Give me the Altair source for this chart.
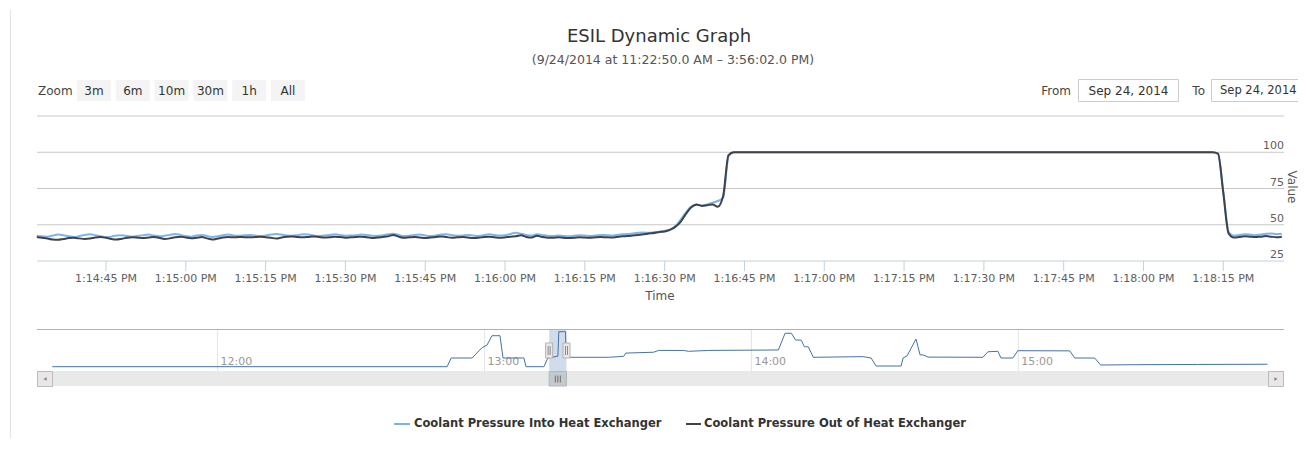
import altair as alt
import pandas as pd
from datetime import datetime, timezone, timedelta

FONT = "DejaVu Sans"
OX, OY = 8, 8
W, H = 1290, 430


def X(v):
    return v - OX


def Y(v):
    return v - OY


DAY = "2014-09-24"


def iso(hms):
    return f"{DAY}T{hms}Z"


def ms(hms):
    h, m, s = hms.split(":")
    return int(datetime(2014, 9, 24, int(h), int(m), int(s), tzinfo=timezone.utc).timestamp() * 1000)


# ---------------- data ----------------
title_text = "ESIL Dynamic Graph"
subtitle_text = "(9/24/2014 at 11:22:50.0 AM \u2013 3:56:02.0 PM)"
series_names = ["Coolant Pressure Into Heat Exchanger", "Coolant Pressure Out of Heat Exchanger"]
series_colors = ["#7cb5ec", "#3f4249"]
zoom_buttons = ["3m", "6m", "10m", "30m", "1h", "All"]
date_from = "Sep 24, 2014"
date_to = "Sep 24, 2014"

# main series, one reading per second from 13:14:32
main_start = "13:14:32"
into_vals = [
    42.5, 42.0, 41.8, 42.6, 43.2, 42.8, 42.0, 41.6, 42.2, 43.0, 43.4, 42.8, 42.0, 41.5, 41.8, 42.6, 42.8, 42.2, 41.8, 42.4,
    42.8, 43.2, 42.6, 42.0, 42.4, 43.0, 43.6, 43.0, 42.2, 41.8, 42.6, 43.0, 42.2, 41.6, 42.0, 42.8, 43.2, 42.6, 42.4, 42.8,
    43.0, 42.6, 42.2, 42.6, 43.2, 43.6, 43.2, 42.6, 42.4, 42.8, 43.4, 43.2, 42.6, 42.2, 42.6, 43.0, 43.4, 43.0, 42.4, 42.6,
    42.8, 43.2, 43.0, 42.4, 42.2, 42.8, 43.4, 43.8, 43.0, 42.2, 42.4, 43.0, 43.2, 42.6, 42.2, 42.6, 43.2, 43.4, 42.8, 42.4,
    42.6, 43.0, 42.6, 42.2, 42.8, 43.4, 43.0, 42.6, 42.8, 43.6, 44.4, 43.8, 43.0, 42.6, 43.4, 43.0, 42.4, 42.2, 42.6, 42.2,
    42.0, 42.4, 42.8, 42.6, 42.2, 42.6, 43.0, 42.8, 42.6, 43.0, 43.4, 43.6, 44.0, 44.4, 44.6, 44.4, 44.8, 45.2, 45.8, 46.6,
    49.0, 53.5, 58.5, 62.5, 63.8, 63.2, 64.0, 65.2, 66.4, 68.5, 97.0,
] + [100.0] * 91 + [
    99.0, 73.0, 45.0,
    42.5, 43.0, 43.4, 43.2, 42.8, 43.2, 43.8, 44.0, 43.6, 43.8,
]
out_vals = [
    41.5, 41.0, 40.5, 39.8, 39.6, 40.2, 40.8, 41.0, 40.6, 40.2, 40.5, 41.2, 41.5, 41.0, 40.2, 39.8, 40.4, 41.0, 41.3, 41.1,
    40.8, 41.2, 41.6, 41.0, 40.2, 40.6, 41.4, 41.8, 41.2, 40.7, 41.0, 41.5, 40.6, 39.8, 40.5, 41.2, 41.5, 41.3, 41.6, 41.4,
    41.3, 41.5, 41.7, 41.4, 41.0, 40.5, 41.2, 41.7, 41.9, 41.5, 41.3, 41.6, 41.9, 41.6, 41.2, 41.4, 41.8, 41.5, 41.1, 41.3,
    41.5, 41.8, 41.4, 40.9, 41.2, 41.6, 42.0, 43.0, 41.8, 41.0, 41.3, 41.6, 41.2, 40.8, 41.2, 41.6, 41.9, 41.5, 41.0, 41.3,
    41.6, 41.2, 40.8, 41.0, 41.6, 41.8, 41.4, 41.0, 41.3, 41.8, 42.0, 42.8, 41.6, 41.2, 42.5, 41.5, 41.1, 41.0, 41.3, 41.0,
    40.8, 41.0, 41.4, 41.2, 41.0, 41.3, 41.5, 41.3, 41.2, 41.6, 42.0, 42.2, 42.6, 43.0, 43.4, 44.0, 44.3, 45.0, 45.4, 46.5,
    48.5, 52.0, 57.5, 62.0, 64.0, 63.0, 63.5, 64.0, 62.5, 70.0, 98.0,
] + [100.0] * 91 + [
    99.0, 72.0, 44.0,
    41.2, 41.6, 42.0, 41.8, 41.5, 41.8, 42.2, 41.8, 41.4, 41.8,
]

x_ticks = ["13:14:45", "13:15:00", "13:15:15", "13:15:30", "13:15:45", "13:16:00", "13:16:15", "13:16:30",
           "13:16:45", "13:17:00", "13:17:15", "13:17:30", "13:17:45", "13:18:00", "13:18:15"]
y_ticks = [25, 50, 75, 100]
y_grid = [50, 75, 100, 125]

# navigator (whole day overview)
nav_times = ["11:22:50", "12:51:36", "12:52:30", "12:57:12", "12:59:26", "13:00:34", "13:01:41", "13:03:29",
             "13:04:10", "13:08:52", "13:09:19", "13:13:21", "13:14:15", "13:16:30", "13:16:42", "13:18:13",
             "13:18:20", "13:27:56", "13:31:18", "13:31:45", "13:38:02", "13:39:09", "13:44:46", "13:45:53",
             "13:50:22", "14:06:04", "14:07:34", "14:09:00", "14:09:54", "14:11:13", "14:11:54", "14:12:48",
             "14:13:55", "14:25:08", "14:26:55", "14:28:02", "14:33:39", "14:34:06", "14:35:00", "14:37:01",
             "14:37:55", "14:38:36", "14:39:43", "14:52:03", "14:53:11", "14:55:25", "14:56:06", "14:58:47",
             "14:59:54", "15:11:34", "15:12:41", "15:17:10", "15:18:31", "15:26:50", "15:40:17", "15:56:02"]
nav_vals = [21.5, 21.5, 41, 41, 64, 70, 91, 91, 41, 41,
            21.5, 21.5, 41, 45, 100, 100, 42.6, 42.6, 44.8, 52,
            54, 58, 58, 56, 58, 59, 96.4, 96.4, 81.4, 81,
            66.3, 66, 42.6, 44, 41, 23, 23, 41, 46, 83.6,
            48, 48, 43, 42.6, 55, 56, 41, 41, 57.4, 57,
            41, 41, 25.3, 26, 26.5, 27]
nav_hours = ["12:00:00", "13:00:00", "14:00:00", "15:00:00"]
sel_range = ["13:14:32", "13:18:26"]

# ---------------- frames ----------------
t0 = datetime(2014, 9, 24, *[int(p) for p in main_start.split(":")])
main_times = [(t0 + timedelta(seconds=i)).strftime("%H:%M:%S") for i in range(len(out_vals))]
main_df = pd.DataFrame({"t": [iso(s) for s in main_times], "into": into_vals, "out": out_vals})
xt_df = pd.DataFrame({"t": [iso(s) for s in x_ticks]})
yt_df = pd.DataFrame({"v": y_ticks})
yg_df = pd.DataFrame({"v": y_grid})
nav_df = pd.DataFrame({"t": [iso(s) for s in nav_times], "v": nav_vals})
hr_df = pd.DataFrame({"t": [iso(s) for s in nav_hours]})
sel_df = pd.DataFrame({"a": [iso(sel_range[0])], "b": [iso(sel_range[1])]})
dummy = pd.DataFrame({"d": [0]})

# ---------------- helpers ----------------


def box(x1, x2, y1, y2, fill, stroke=None, sw=1):
    kw = dict(fill=fill)
    if stroke:
        kw.update(stroke=stroke, strokeWidth=sw)
    else:
        kw.update(strokeWidth=0)
    return alt.Chart(dummy).mark_rect(**kw).encode(
        x=alt.value(X(x1)), x2=alt.value(X(x2)), y=alt.value(Y(y1)), y2=alt.value(Y(y2)))


def label(txt, x, y, size=12, color="#333333", align="left", weight="normal", angle=0, baseline="middle"):
    return alt.Chart(dummy).mark_text(
        text=txt, align=align, baseline=baseline, fontSize=size, color=color,
        fontWeight=weight, font=FONT, angle=angle).encode(x=alt.value(X(x)), y=alt.value(Y(y)))


def hline(x1, x2, y, color, sw=1):
    return alt.Chart(dummy).mark_rule(color=color, strokeWidth=sw).encode(
        x=alt.value(X(x1)), x2=alt.value(X(x2)), y=alt.value(Y(y)))


def vline(x, y1, y2, color, sw=1):
    return alt.Chart(dummy).mark_rule(color=color, strokeWidth=sw).encode(
        x=alt.value(X(x)), y=alt.value(Y(y1)), y2=alt.value(Y(y2)))


# ---------------- decoration ----------------
decor = [vline(10.5, 10, 449, "#e2e2e2")]
decor.append(label(title_text, 659, 37, size=18, color="#333333", align="center"))
decor.append(label(subtitle_text, 673, 60, size=12.5, color="#555555", align="center"))
decor.append(label("Zoom", 38, 91, size=12, color="#444444"))
for k, b in enumerate(zoom_buttons):
    x1 = 77 + 38.8 * k
    decor.append(box(x1, x1 + 34, 80, 101, "#f4f4f4"))
    decor.append(label(b, x1 + 17, 91, size=12, color="#333333", align="center"))
decor.append(label("From", 1071, 91, size=12, color="#444444", align="right"))
decor.append(box(1078.5, 1178.5, 79.5, 101.5, "#ffffff", "#cccccc"))
decor.append(label(date_from, 1128.5, 91, size=12, color="#333333", align="center"))
decor.append(label("To", 1205, 91, size=12, color="#444444", align="right"))
decor.append(box(1211.5, 1311.5, 79.5, 101.5, "#ffffff", "#cccccc"))
decor.append(label(date_to, 1220, 91, size=11.5, color="#333333", align="left"))
decor.append(label("Time", 660, 296, size=12, color="#555555", align="center"))
decor.append(label("Value", 1292, 187, size=12, color="#555555", angle=90, align="center"))
# legend
decor.append(hline(394, 410, 424, series_colors[0], 2))
decor.append(label(series_names[0], 414, 424, size=11.5, color="#333333", weight="bold"))
decor.append(hline(686, 701, 424, series_colors[1], 2))
decor.append(label(series_names[1], 704, 424, size=11.5, color="#333333", weight="bold"))
decor_layer = alt.layer(*decor)

# ---------------- main plot ----------------
xs_main = alt.Scale(type="utc", domain=[ms("13:14:45"), ms("13:18:15")], range=[X(106), X(1223.3)], nice=False)
ys_main = alt.Scale(domain=[25, 125], range=[Y(261), Y(116)], nice=False, zero=False)

grid = alt.Chart(yg_df).mark_rule(color="#C8C8C8", strokeWidth=1).encode(
    y=alt.Y("v:Q", scale=ys_main, axis=None), x=alt.value(X(37)), x2=alt.value(X(1284)))
axis_line = alt.Chart(yt_df).transform_filter("datum.v == 25").mark_rule(color="#C0D0E0", strokeWidth=1).encode(
    y=alt.Y("v:Q", scale=ys_main, axis=None), x=alt.value(X(37)), x2=alt.value(X(1284)))
ticks = alt.Chart(xt_df).mark_rule(color="#C0D0E0", strokeWidth=1).encode(
    x=alt.X("t:T", scale=xs_main, axis=None), y=alt.value(Y(261)), y2=alt.value(Y(271)))
tick_labels = alt.Chart(xt_df).transform_calculate(
    lab="utcFormat(toDate(datum.t), '%-I:%M:%S %p')"
).mark_text(font=FONT, fontSize=11, color="#606060", baseline="middle", align="center").encode(
    x=alt.X("t:T", scale=xs_main, axis=None), y=alt.value(Y(279)), text="lab:N")
y_labels = alt.Chart(yt_df).mark_text(font=FONT, fontSize=11, color="#606060", baseline="alphabetic",
                                      align="right", dy=-3).encode(
    y=alt.Y("v:Q", scale=ys_main, axis=None), x=alt.value(X(1284)), text="v:N")
line_in = alt.Chart(main_df).mark_line(color=series_colors[0], strokeWidth=2, interpolate="monotone").encode(
    x=alt.X("t:T", scale=xs_main, axis=None), y=alt.Y("into:Q", scale=ys_main, axis=None))
line_out = alt.Chart(main_df).mark_line(color=series_colors[1], strokeWidth=2, interpolate="monotone").encode(
    x=alt.X("t:T", scale=xs_main, axis=None), y=alt.Y("out:Q", scale=ys_main, axis=None))
main_layer = alt.layer(grid, axis_line, ticks, tick_labels, y_labels, line_in, line_out)

# ---------------- navigator ----------------
xs_nav = alt.Scale(type="utc", domain=[ms("12:00:00"), ms("15:00:00")], range=[X(217.6), X(1018.3)], nice=False)
ys_nav = alt.Scale(domain=[41, 100], range=[Y(358), Y(331.7)], nice=False, zero=False)

nav_parts = [
    box(37, 1284, 371, 386, "#e9e9e9"),
]
hr_grid = alt.Chart(hr_df).mark_rule(color="#e4e4e4", strokeWidth=1).encode(
    x=alt.X("t:T", scale=xs_nav, axis=None), y=alt.value(Y(329)), y2=alt.value(Y(371)))
hr_labels = alt.Chart(hr_df).transform_calculate(
    lab="utcFormat(toDate(datum.t), '%H:%M')"
).mark_text(font=FONT, fontSize=11, color="#999999", align="left", baseline="middle", dx=3).encode(
    x=alt.X("t:T", scale=xs_nav, axis=None), y=alt.value(Y(362)), text="lab:N")
nav_line = alt.Chart(nav_df).mark_line(color="#4572A7", strokeWidth=1).encode(
    x=alt.X("t:T", scale=xs_nav, axis=None), y=alt.Y("v:Q", scale=ys_nav, axis=None))
mask = alt.Chart(sel_df).mark_rect(fill="rgba(69,114,167,0.25)", strokeWidth=0).encode(
    x=alt.X("a:T", scale=xs_nav, axis=None), x2="b:T", y=alt.value(Y(329)), y2=alt.value(Y(371)))
thumb = alt.Chart(sel_df).mark_rect(fill="#c3c9cf", stroke="#b0b8c0", strokeWidth=1).encode(
    x=alt.X("a:T", scale=xs_nav, axis=None), x2="b:T", y=alt.value(Y(371.5)), y2=alt.value(Y(386)))
grips = []
for off in (-2.5, 0, 2.5):
    grips.append(alt.Chart(sel_df).transform_calculate(
        mid="(toDate(datum.a) + toDate(datum.b)) / 2"
    ).mark_rule(color="#6d6d6d", strokeWidth=1, xOffset=off).encode(
        x=alt.X("mid:T", scale=xs_nav, axis=None), y=alt.value(Y(375.5)), y2=alt.value(Y(382.5))))
handles = []
for fld in ("a", "b"):
    handles.append(alt.Chart(sel_df).mark_rect(fill="#ebe7e8", stroke="#b2b1b6", strokeWidth=1,
                                                xOffset=-3.5, x2Offset=3.5).encode(
        x=alt.X(f"{fld}:T", scale=xs_nav, axis=None), x2=f"{fld}:T", y=alt.value(Y(343)), y2=alt.value(Y(358))))
    for off in (-1, 1):
        handles.append(alt.Chart(sel_df).mark_rule(color="#8a8a8a", strokeWidth=1, xOffset=off).encode(
            x=alt.X(f"{fld}:T", scale=xs_nav, axis=None), y=alt.value(Y(346)), y2=alt.value(Y(355))))
nav_parts += [hr_grid, hr_labels, nav_line, mask, thumb] + grips
nav_parts.append(hline(37, 1284, 329.5, "#b2b1b6"))
nav_parts += handles
nav_parts.append(box(37.5, 52.5, 371.5, 386.5, "#ebe7e8", "#bbbbbb"))
nav_parts.append(box(1268.5, 1283.5, 371.5, 386.5, "#ebe7e8", "#bbbbbb"))
nav_parts.append(alt.Chart(dummy).mark_point(shape="triangle-left", filled=True, size=14, color="#555555").encode(
    x=alt.value(X(45)), y=alt.value(Y(379))))
nav_parts.append(alt.Chart(dummy).mark_point(shape="triangle-right", filled=True, size=14, color="#555555").encode(
    x=alt.value(X(1276)), y=alt.value(Y(379))))
nav_layer = alt.layer(*nav_parts)

chart = alt.layer(decor_layer, main_layer, nav_layer).resolve_scale(
    x="independent", y="independent"
).properties(
    width=W, height=H, padding=0, autosize=alt.AutoSizeParams(type="none"), background="#ffffff"
).configure_view(strokeWidth=0)

chart.save("out.html", embed_options={"renderer": "svg", "actions": False})
